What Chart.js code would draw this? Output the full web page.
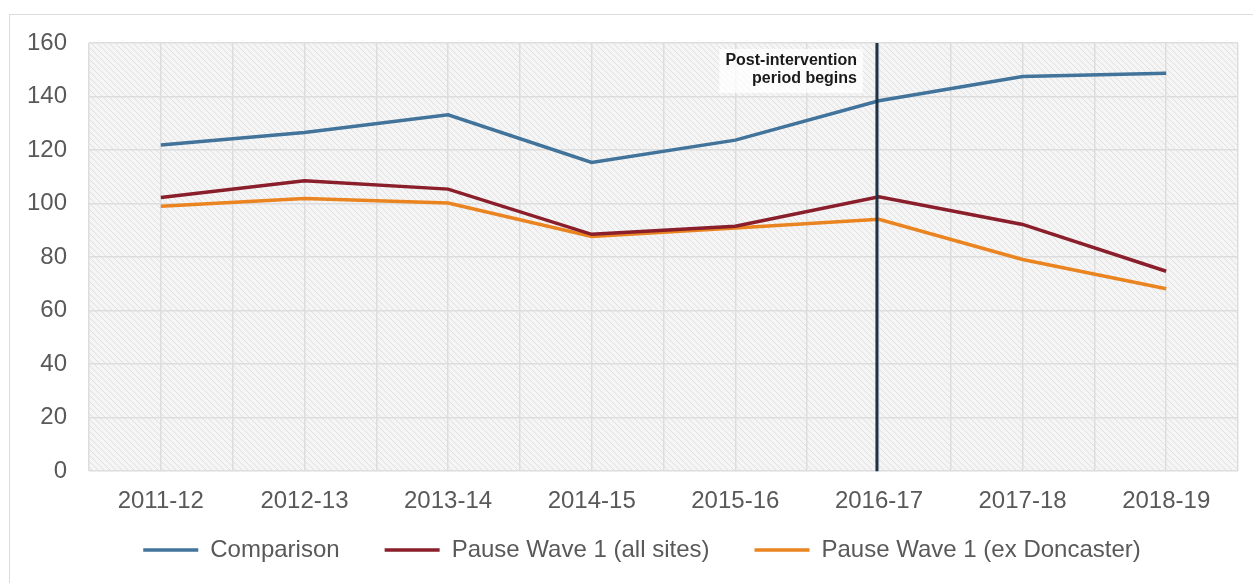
<!DOCTYPE html>
<html>
<head>
<meta charset="utf-8">
<script src="https://cdn.jsdelivr.net/npm/chart.js@4/dist/chart.umd.min.js"></script>
<style>
  html, body { margin: 0; padding: 0; background: #ffffff; overflow: hidden; width: 1253px; height: 583px; }
  #frame { position: absolute; left: 9px; top: 14px; width: 1300px; height: 620px; border: 1px solid #dcdcdc; box-sizing: border-box; }
  #c { position: absolute; left: 0; top: 0; }
</style>
</head>
<body>
<div id="frame"></div>
<canvas id="c" width="1275" height="583" style="width:1275px;height:583px"></canvas>
<script>
const categories = ['2011-12', '2012-13', '2013-14', '2014-15', '2015-16', '2016-17', '2017-18', '2018-19'];
const comparison = [121.9, 126.6, 133.2, 115.4, 123.7, 138.4, 147.5, 148.7];
const pauseAllSites = [102.3, 108.5, 105.4, 88.5, 91.5, 102.5, 92.2, 74.7];
const pauseExDoncaster = [99.0, 101.9, 100.2, 87.7, 90.9, 94.1, 79.1, 68.2];
const seriesNames = ['Comparison', 'Pause Wave 1 (all sites)', 'Pause Wave 1 (ex Doncaster)'];
const yTicks = [0, 20, 40, 60, 80, 100, 120, 140, 160];
const interventionIndex = 5;
const annotationLines = ['Post-intervention', 'period begins'];

const FONT = '"Liberation Sans", Arial, sans-serif';
const TEXT = '#595959';
const GRID = '#dddddd';

function makeHatch() {
  const p = document.createElement('canvas');
  p.width = 6; p.height = 6;
  const g = p.getContext('2d');
  g.fillStyle = '#f5f5f5';
  g.fillRect(0, 0, 6, 6);
  g.strokeStyle = '#e0e0e0';
  g.lineWidth = 1;
  g.beginPath();
  g.moveTo(0, 0); g.lineTo(6, 6);
  g.moveTo(-3, 3); g.lineTo(3, 9);
  g.moveTo(3, -3); g.lineTo(9, 3);
  g.stroke();
  return g.createPattern(p, 'repeat');
}

const bgPlugin = {
  id: 'hatchBg',
  beforeDraw(chart) {
    const { ctx, chartArea: a } = chart;
    ctx.save();
    ctx.fillStyle = makeHatch();
    ctx.fillRect(a.left, a.top, a.right - a.left, a.bottom - a.top);
    ctx.restore();
  }
};

const legendPlace = {
  id: 'legendPlace',
  afterLayout(chart) {
    const lg = chart.legend;
    if (!lg) return;
    const P = lg.options.labels.padding;
    const newTop = 550 - P - 12;
    lg.top = newTop;
    lg.height = P + 24 + 20;
    lg.bottom = newTop + lg.height;
    const dx = 642 - (lg.left + lg.right) / 2;
    lg.left += dx; lg.right += dx;
  }
};

const markerPlugin = {
  id: 'intervention',
  afterDatasetsDraw(chart) {
    const { ctx, chartArea: a } = chart;
    const x = chart.scales.x.getPixelForValue(interventionIndex) - 2;
    ctx.save();
    ctx.font = 'bold 16px ' + FONT;
    ctx.textAlign = 'right';
    ctx.textBaseline = 'middle';
    const w = Math.max(...annotationLines.map(t => ctx.measureText(t).width));
    ctx.fillStyle = 'rgba(255,255,255,0.75)';
    ctx.fillRect(x - 20 - w - 6, a.top + 6, w + 12, 44);
    ctx.fillStyle = '#1a1a1a';
    annotationLines.forEach((t, i) => ctx.fillText(t, x - 20, a.top + 18 + i * 17.5));
    ctx.strokeStyle = '#1c3347';
    ctx.lineWidth = 3;
    ctx.beginPath();
    ctx.moveTo(x, a.top);
    ctx.lineTo(x, a.bottom);
    ctx.stroke();
    ctx.restore();
  }
};

const colors = ['#41739b', '#8a1e2a', '#ea8420'];
const data = [comparison, pauseAllSites, pauseExDoncaster];

new Chart(document.getElementById('c'), {
  type: 'line',
  data: {
    labels: categories,
    datasets: data.map((d, i) => ({
      label: seriesNames[i],
      data: d,
      borderColor: colors[i],
      backgroundColor: colors[i],
      borderWidth: 3.5,
      pointRadius: 0,
      tension: 0,
      xAxisID: 'x',
      yAxisID: 'y'
    }))
  },
  options: {
    responsive: false,
    animation: false,
    devicePixelRatio: 1,
    layout: { padding: { left: 27, right: 37, top: 43, bottom: 11 } },
    plugins: {
      tooltip: { enabled: false },
      legend: {
        position: 'bottom',
        maxHeight: 40,
        labels: {
          usePointStyle: true,
          pointStyle: 'line',
          pointStyleWidth: 55,
          padding: 45,
          color: TEXT,
          font: { family: FONT, size: 24 }
        }
      }
    },
    scales: {
      x: {
        type: 'category',
        offset: true,
        grid: { offset: true, color: GRID, lineWidth: 1.5, drawTicks: false },
        border: { display: false },
        ticks: { color: TEXT, font: { family: FONT, size: 24 }, padding: 16, maxRotation: 0 }
      },
      x2: {
        type: 'category',
        position: 'top',
        labels: categories,
        offset: true,
        grid: { offset: false, color: GRID, lineWidth: 1.5, drawTicks: false },
        border: { display: false },
        ticks: { display: false }
      },
      y: {
        min: 0,
        max: 160,
        afterBuildTicks(s) { s.ticks = yTicks.map(v => ({ value: v })); },
        grid: { color: GRID, lineWidth: 1.5, drawTicks: false },
        border: { display: false },
        ticks: { color: TEXT, font: { family: FONT, size: 24 }, padding: 22 },
        afterFit(s) { s.width = 62; }
      }
    }
  },
  plugins: [bgPlugin, legendPlace, markerPlugin]
});
</script>
</body>
</html>
